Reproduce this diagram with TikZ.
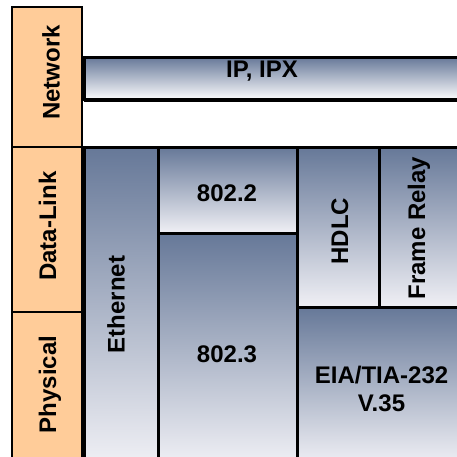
\documentclass[tikz,border=0pt]{standalone}
\usepackage{fontspec}
\setmainfont{Liberation Sans}
\definecolor{layerfill}{RGB}{255,204,153}
\definecolor{protoTop}{RGB}{102,120,152}
\definecolor{protoBot}{RGB}{240,240,245}
\definecolor{barBot}{RGB}{250,250,252}
\tikzset{
  layerbox/.style={draw=black, line width=2.5pt, fill=layerfill},
  protobox/.style={draw=black, line width=3pt, top color=protoTop, bottom color=protoBot},
  lbl/.style={font=\bfseries\fontsize{24}{28}\selectfont, inner sep=0pt, text height=17pt, text depth=0pt, align=center},
}
\begin{document}
\begin{tikzpicture}[x=1pt,y=-1pt]
\useasboundingbox (0,0) rectangle (457,456);
\begin{scope}
\clip (0,0) rectangle (457,456);
% network bar
\draw[protobox, top color=protoTop, bottom color=barBot] (84,57) rectangle (465,99);
\draw[line width=2pt] (84,100.5) -- (465,100.5);
% protocol boxes
\draw[protobox] (84,147) rectangle (158.5,465);
\draw[protobox] (158.5,147) rectangle (297.5,233);
\draw[protobox] (158.5,233) rectangle (297.5,465);
\draw[protobox] (297.5,147) rectangle (379,307);
\draw[protobox] (379,147) rectangle (465,307);
\draw[protobox] (297.5,307) rectangle (465,465);
% layer boxes
\draw[layerbox] (12,7) rectangle (82,147);
\draw[layerbox] (12,147) rectangle (82,312);
\draw[layerbox] (12,312) rectangle (82,465);
\end{scope}
% labels
\node[lbl, rotate=90] (net) at (51,72.5) {Network};
\node[lbl, rotate=90] (dl) at (47.5,226) {Data-Link};
\node[lbl, rotate=90] (phy) at (47.5,384.5) {Physical};
\node[lbl] (ip) at (262,69) {IP, IPX};
\node[lbl, rotate=90] (eth) at (116,304.5) {Ethernet};
\node[lbl] (e22) at (227,193) {802.2};
\node[lbl] (e23) at (227,354) {802.3};
\node[lbl, rotate=90] (hdlc) at (339.5,231) {HDLC};
\node[lbl, rotate=90] (fr) at (416.5,228) {Frame Relay};
\node[lbl] (eia) at (381.5,375) {EIA/TIA-232};
\node[lbl] (v35) at (381.5,403) {V.35};
\end{tikzpicture}
\end{document}
